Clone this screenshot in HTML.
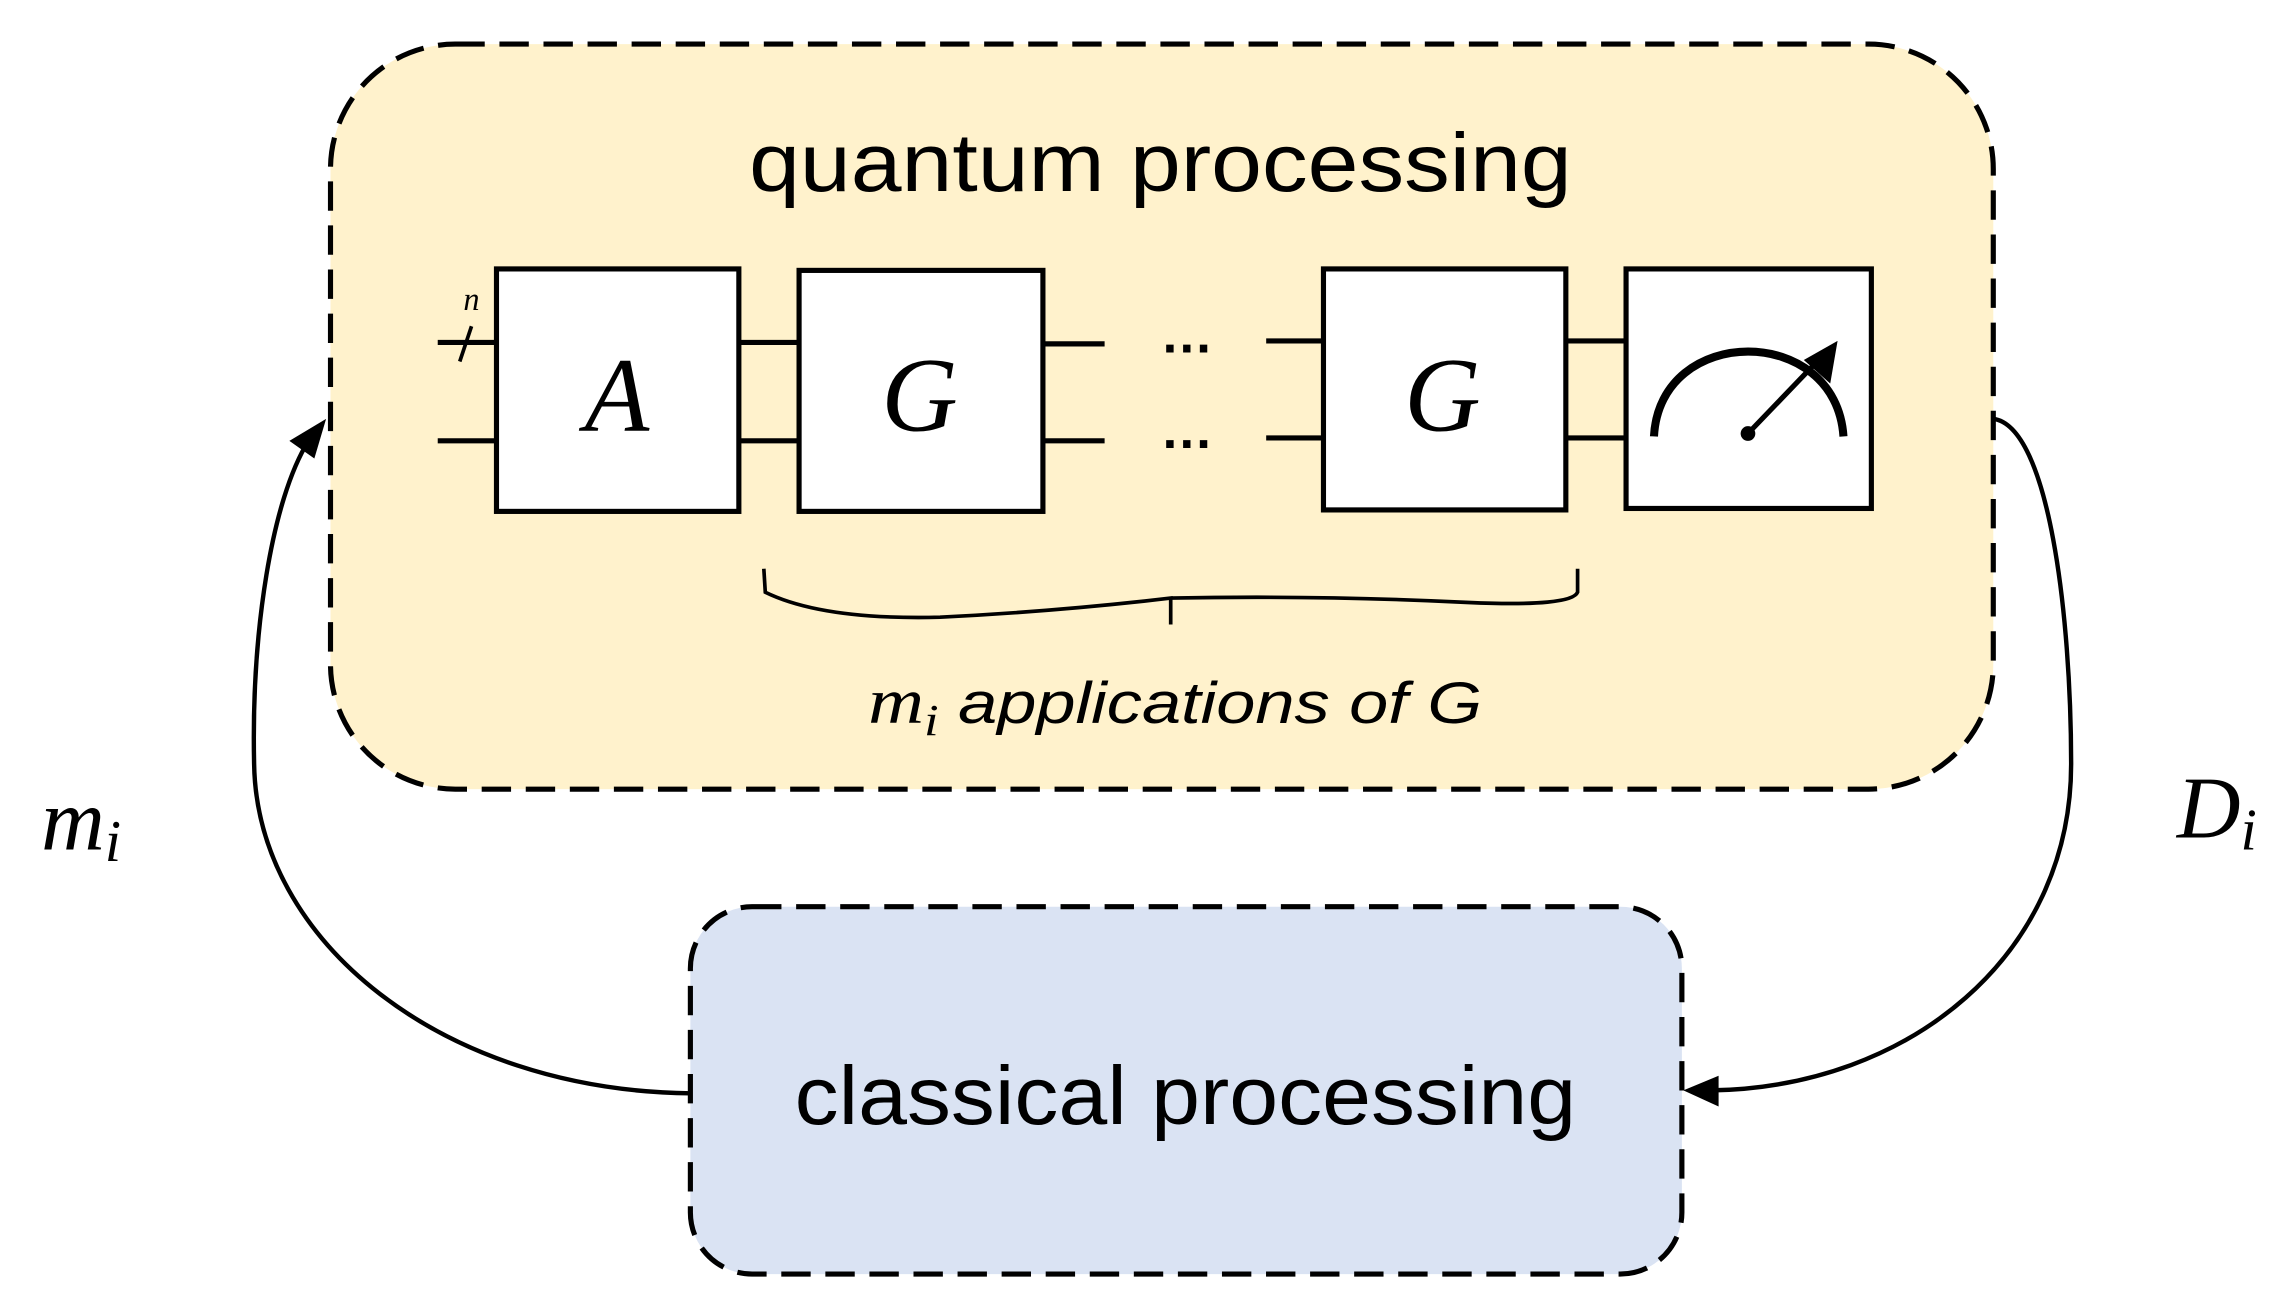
<!DOCTYPE html>
<html><head><meta charset="utf-8"><style>
html,body{margin:0;padding:0;background:#fff;}
svg{display:block;}
</style></head><body>
<svg width="2290" height="1302" viewBox="0 0 1559 886" preserveAspectRatio="none" xmlns="http://www.w3.org/2000/svg">
<rect x="225" y="30" width="1132" height="507" rx="85" ry="85" fill="#fff2cc" stroke="#000" stroke-width="3.5" stroke-dasharray="20,10"/>
<rect x="470" y="617" width="675" height="250" rx="42" ry="42" fill="#dae3f3" stroke="#000" stroke-width="3.5" stroke-dasharray="20,10"/>
<text x="790" y="130" font-family="Liberation Sans, sans-serif" font-size="56" text-anchor="middle" textLength="560" lengthAdjust="spacingAndGlyphs">quantum processing</text>
<text x="807" y="765" font-family="Liberation Sans, sans-serif" font-size="56" text-anchor="middle" textLength="532" lengthAdjust="spacingAndGlyphs">classical processing</text>
<g stroke="#000" stroke-width="3.5">
<line x1="298" y1="233" x2="338" y2="233"/><line x1="298" y1="300" x2="338" y2="300"/>
<line x1="503" y1="233" x2="544" y2="233"/><line x1="503" y1="300" x2="544" y2="300"/>
<line x1="710" y1="234" x2="752" y2="234"/><line x1="710" y1="300" x2="752" y2="300"/>
<line x1="862" y1="232" x2="901" y2="232"/><line x1="862" y1="298" x2="901" y2="298"/>
<line x1="1066" y1="232" x2="1107" y2="232"/><line x1="1066" y1="298" x2="1107" y2="298"/>
<line x1="313" y1="246" x2="321" y2="222" stroke-width="2.5"/>
</g>
<g fill="#fff" stroke="#000" stroke-width="3.5">
<rect x="338" y="183" width="165" height="165"/>
<rect x="544" y="184" width="166" height="164"/>
<rect x="901" y="183" width="165" height="164"/>
<rect x="1107" y="183" width="167" height="163"/>
</g>
<text x="321" y="211" font-family="Liberation Serif, serif" font-style="italic" font-size="22" text-anchor="middle">n</text>
<g font-family="Liberation Serif, serif" font-style="italic" font-size="72" text-anchor="middle">
<text x="420" y="293">A</text><text x="626" y="293">G</text><text x="982" y="293">G</text>
</g>
<g font-family="Liberation Sans, sans-serif" font-size="36" font-weight="bold" text-anchor="middle"><text x="808" y="240">…</text><text x="808" y="305">…</text></g>
<path d="M1126,297 C1130,220 1250,220 1255,297" fill="none" stroke="#000" stroke-width="5.5"/>
<line x1="1190" y1="295" x2="1238" y2="245" stroke="#000" stroke-width="3.5"/>
<path d="M1251,232 L1246,261 L1228,245 z" fill="#000"/>
<circle cx="1190" cy="295" r="5" fill="#000"/>
<path d="M520,387 L521,403 Q560,422 640,420 Q720,416 797,407 L797,425 M797,407 Q900,405 1000,410 Q1070,413 1074,403 L1074,387" fill="none" stroke="#000" stroke-width="2.5"/>
<text x="800" y="492" font-family="Liberation Sans, sans-serif" font-style="italic" font-size="40" text-anchor="middle" textLength="418" lengthAdjust="spacingAndGlyphs"><tspan font-family="Liberation Serif, serif" font-size="44">m</tspan><tspan font-family="Liberation Serif, serif" font-size="30" dy="8">i</tspan><tspan dy="-8"> applications of G</tspan></text>
<text x="28" y="578" font-family="Liberation Serif, serif" font-style="italic" font-size="60">m<tspan font-size="40" dy="8">i</tspan></text>
<text x="1482" y="570" font-family="Liberation Serif, serif" font-style="italic" font-size="60">D<tspan font-size="40" dy="8">i</tspan></text>
<path d="M470,744 C300,742 175,640 173,520 C171,430 185,340 210,300" fill="none" stroke="#000" stroke-width="3"/>
<path d="M222,285 L197,300 L214,312 z" fill="#000"/>
<path d="M1357,285 C1395,290 1410,420 1410,520 C1410,650 1300,740 1165,742" fill="none" stroke="#000" stroke-width="3"/>
<path d="M1146,742 L1170,732 L1170,753 z" fill="#000"/>
</svg>
</body></html>
